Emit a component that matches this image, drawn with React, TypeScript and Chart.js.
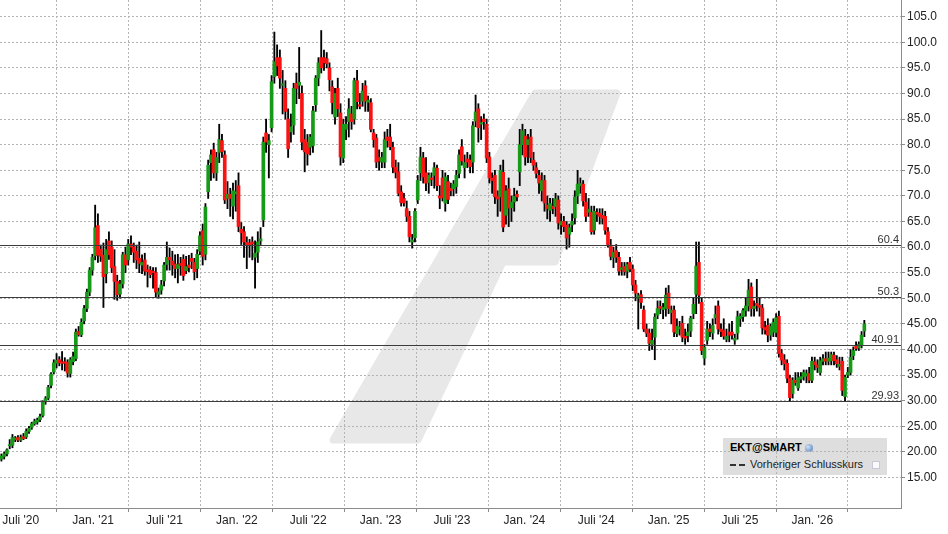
import React, { useEffect, useRef } from "react";
import { Chart, registerables } from "chart.js";

Chart.register(...registerables);

const DAY = 86400000;
const WEEK = 7 * DAY;
const FIRST_WEEK = Date.UTC(2020, 4, 13);

const opens = [
  18.6,19.1,19.6,21.2,21.3,22.4,22.8,22.3,23.0,22.9,
  24.0,24.8,25.5,25.8,26.3,27.1,29.8,30.5,33.0,35.6,
  37.3,38.0,37.6,37.6,37.5,35.3,37.6,38.2,43.5,42.9,
  45.6,48.0,51.2,55.5,58.3,64.2,59.6,58.4,54.8,61.2,
  60.0,56.2,53.3,50.8,52.8,58.5,57.5,60.6,60.0,59.2,
  57.8,56.5,57.5,55.6,55.5,55.3,55.0,50.8,51.6,53.4,
  56.6,58.0,57.3,56.7,55.8,56.8,57.6,55.4,56.5,57.8,
  57.0,55.8,59.2,63.2,58.6,70.8,76.5,79.0,74.5,78.5,
  80.8,78.0,69.5,70.3,68.0,70.4,72.0,63.5,63.0,60.9,
  60.8,61.0,58.0,59.0,61.2,65.3,82.3,80.0,83.3,93.3,
  97.0,97.0,91.6,91.0,85.0,82.5,83.8,92.0,91.6,90.0,
  81.0,80.5,79.5,79.8,87.8,93.0,97.0,97.0,96.8,95.0,
  91.3,85.4,91.0,86.2,77.4,83.0,84.5,86.0,85.0,92.5,
  87.8,88.5,91.5,88.3,88.2,82.3,81.3,77.5,76.6,76.6,
  81.5,81.5,79.5,75.6,74.7,70.8,69.5,67.5,66.0,61.0,
  61.8,69.2,74.5,77.4,74.5,72.6,73.5,74.0,75.4,70.0,
  73.5,68.6,72.8,71.5,71.4,71.8,74.4,79.6,75.5,77.2,
  77.0,76.6,84.6,87.0,84.0,85.0,84.0,77.6,73.5,74.0,
  70.0,69.8,74.6,66.2,71.4,67.7,68.8,70.3,74.7,80.0,
  81.7,80.0,81.5,77.0,75.5,74.0,71.0,73.0,68.2,67.2,
  68.0,67.9,69.2,64.3,65.0,64.3,62.5,64.3,65.7,70.0,
  72.0,72.3,68.8,66.8,66.8,63.3,66.8,66.6,66.2,66.0,
  63.0,60.4,58.0,59.3,58.0,55.6,56.2,55.3,57.0,55.7,
  52.6,50.0,50.7,47.7,44.0,43.2,41.0,42.4,46.7,48.4,
  47.8,48.0,51.0,47.2,47.7,43.1,44.0,45.1,42.6,42.7,
  43.6,47.0,50.8,57.0,49.2,38.3,41.8,44.0,43.2,46.2,
  48.5,44.0,43.7,42.0,43.4,43.4,41.8,43.2,46.0,46.4,
  47.6,48.5,52.2,48.0,49.0,48.6,48.1,44.3,44.7,42.8,
  43.4,43.3,46.5,39.2,38.0,37.3,34.4,31.4,34.0,32.5,
  34.2,34.7,34.8,35.3,34.0,37.6,37.0,35.5,37.7,38.2,
  37.7,37.8,38.9,38.0,36.7,37.7,30.8,35.0,35.5,38.8,
  40.7,40.3,40.8,43.6
];

const highs = [
  19.6,20.0,20.6,22.4,23.4,23.0,23.2,23.3,23.6,24.5,
  25.0,25.8,26.4,26.6,27.4,30.0,30.8,33.0,35.5,38.0,
  39.2,38.6,39.6,38.4,38.0,38.4,39.5,44.0,44.5,46.0,
  48.6,51.8,56.0,58.6,68.2,66.5,60.4,60.8,61.5,63.0,
  61.2,59.5,54.5,53.5,59.0,60.0,61.5,62.2,60.8,60.4,
  61.0,58.5,58.8,56.5,56.2,56.0,56.0,52.0,53.5,57.0,
  61.0,59.8,59.2,58.5,58.6,58.0,58.5,58.2,58.4,58.8,
  57.8,59.5,63.0,64.5,68.5,77.0,79.0,80.3,78.5,84.0,
  82.0,78.8,72.8,71.5,72.5,73.0,74.5,64.8,64.0,62.0,
  61.5,62.0,61.2,63.0,63.8,81.5,85.0,82.0,93.5,102.0,
  99.5,98.5,94.5,92.5,87.0,86.0,92.0,94.0,99.0,91.5,
  83.0,82.0,82.0,87.5,93.5,97.0,102.3,98.5,98.0,96.0,
  92.5,91.0,93.0,88.0,85.0,85.5,89.0,87.5,93.0,94.5,
  90.0,92.0,92.5,89.5,89.0,83.0,82.0,79.0,78.5,82.5,
  83.0,84.0,80.5,77.0,76.5,72.0,70.5,69.0,67.0,62.5,
  67.5,74.0,79.5,78.5,77.5,74.5,74.5,76.5,76.0,72.0,
  75.0,74.5,74.0,72.5,73.0,75.0,79.0,81.0,78.0,78.5,
  78.0,84.5,89.7,88.0,85.5,86.0,85.0,78.5,74.5,75.0,
  71.0,76.0,77.0,72.0,73.5,70.0,71.5,71.0,83.0,84.0,
  83.0,82.0,83.0,78.5,76.5,75.0,74.5,74.0,70.0,69.5,
  69.5,70.5,70.0,66.5,66.0,65.0,64.5,66.5,71.0,75.0,
  73.5,73.0,70.5,69.5,68.0,68.0,67.5,67.5,67.5,67.0,
  63.8,61.5,60.0,60.5,59.0,57.0,57.0,57.0,58.0,56.5,
  53.5,51.0,51.5,48.5,45.0,44.0,44.0,47.0,49.5,49.5,
  49.0,52.0,52.5,48.5,48.5,46.0,45.5,46.5,44.0,45.0,
  46.5,50.0,61.0,61.0,50.0,41.0,45.5,45.0,46.0,48.5,
  49.5,45.0,46.0,44.0,45.0,45.5,43.0,47.5,47.0,48.0,
  50.0,53.7,53.0,49.5,53.7,50.0,48.8,45.5,46.0,45.0,
  46.0,47.0,47.5,40.0,39.0,38.0,35.0,34.5,35.5,35.5,
  35.5,36.0,36.0,36.5,38.5,38.5,38.0,38.5,39.0,39.5,
  39.5,39.5,39.5,38.8,38.5,38.5,35.0,36.5,40.0,40.5,
  41.5,41.5,43.5,45.7
];

const lows = [
  18.2,18.6,19.2,20.6,20.8,22.0,22.0,22.0,22.4,22.6,
  23.6,24.4,25.2,25.4,25.9,26.8,29.3,30.2,32.5,35.2,
  36.4,36.8,36.0,35.8,34.6,34.6,37.0,37.8,42.6,42.5,
  45.0,47.4,50.5,54.5,57.5,57.0,57.2,48.2,53.0,57.6,
  55.0,49.8,49.6,50.0,52.0,55.0,56.5,58.5,57.0,55.8,
  55.0,54.8,54.5,52.2,54.0,52.0,50.3,50.0,50.8,52.4,
  55.5,55.5,54.5,54.0,53.0,54.5,53.5,54.8,55.2,55.8,
  53.6,54.0,58.5,56.5,57.5,69.5,73.0,73.5,73.0,76.5,
  77.5,68.5,67.5,66.0,65.5,67.0,63.0,60.5,58.0,55.8,
  58.0,57.5,52.0,57.0,60.5,64.0,78.5,73.5,82.5,92.0,
  93.5,91.0,86.0,85.0,77.5,80.5,82.0,88.0,89.0,79.0,
  74.7,76.0,78.0,78.5,86.5,91.5,94.0,94.5,95.0,90.5,
  86.0,84.0,85.5,76.0,76.5,81.0,81.5,83.0,84.0,87.0,
  87.0,87.5,86.5,86.5,82.5,79.5,75.5,75.0,75.5,75.5,
  79.5,79.0,74.5,73.5,70.0,68.0,68.0,65.0,61.0,59.8,
  61.0,68.5,73.0,72.5,71.0,70.5,72.0,71.5,71.0,67.5,
  69.0,67.0,68.5,70.0,70.0,70.5,73.5,76.0,73.5,75.5,
  74.5,74.5,83.5,80.5,81.0,83.0,76.5,72.5,70.5,68.5,
  66.0,67.0,63.0,64.5,64.0,65.0,67.0,69.0,72.0,78.0,
  76.0,76.5,76.5,75.0,73.5,70.5,69.0,67.0,65.5,65.0,
  66.5,66.0,63.5,62.5,63.0,59.6,60.0,63.0,64.5,68.5,
  70.5,68.0,65.0,66.0,62.5,62.5,65.0,64.5,64.5,62.5,
  60.0,57.5,56.0,57.0,54.5,54.5,54.5,54.0,55.2,51.5,
  49.5,44.0,48.0,43.5,42.5,39.8,40.0,38.0,46.0,47.0,
  46.0,46.5,47.0,45.0,42.5,42.5,42.8,41.5,41.0,41.5,
  42.5,46.0,47.0,49.0,39.0,37.0,41.0,42.5,42.0,45.0,
  43.0,42.5,42.0,41.5,41.5,42.0,41.0,42.0,44.5,45.5,
  46.5,47.5,46.5,46.5,47.5,46.5,43.0,43.0,41.5,41.8,
  42.5,42.5,38.5,37.0,36.0,33.5,30.0,30.5,33.0,32.0,
  33.5,34.0,33.5,33.5,33.5,36.0,35.5,35.0,37.0,37.0,
  37.0,37.0,37.0,36.5,36.0,31.0,30.0,34.5,35.0,38.0,
  39.8,39.8,40.3,42.5
];

const closes = [
  19.2,19.6,20.4,21.3,22.8,22.7,22.3,22.8,22.6,24.0,
  24.6,25.5,26.0,26.2,26.9,29.7,30.4,32.6,35.2,37.4,
  37.9,37.4,37.3,37.3,35.4,38.0,38.6,43.4,42.9,45.3,
  48.0,51.2,55.5,58.0,63.8,58.4,58.2,54.2,59.5,58.5,
  56.0,53.3,50.7,52.8,58.5,56.5,60.6,60.0,59.0,57.5,
  56.8,57.0,55.3,55.2,54.6,55.0,51.2,51.3,52.6,56.5,
  58.0,57.5,56.5,55.8,56.6,56.4,54.4,56.2,56.0,57.2,
  55.2,58.6,62.2,58.2,67.8,76.0,78.0,74.5,77.5,81.0,
  78.6,69.2,70.3,69.5,71.0,70.8,64.0,62.8,61.0,60.3,
  60.3,60.6,58.8,61.0,61.6,80.5,80.5,80.8,92.3,96.2,
  95.4,93.0,91.9,86.5,79.2,83.5,91.0,91.0,92.2,80.5,
  78.6,78.2,81.5,86.6,93.0,96.0,95.0,96.0,95.8,92.7,
  88.2,90.0,87.0,77.6,84.0,84.0,87.0,84.5,92.5,88.4,
  87.5,90.5,88.5,88.7,83.0,81.0,76.6,76.8,77.5,81.0,
  80.8,79.6,75.6,74.6,70.5,68.7,68.6,66.0,62.0,61.4,
  67.0,73.0,77.6,73.7,72.5,74.0,73.2,75.5,72.0,69.6,
  69.6,73.7,69.3,71.0,72.3,74.0,78.0,76.8,76.5,76.6,
  75.7,83.7,86.4,83.3,84.3,84.5,77.4,73.5,73.0,69.8,
  69.4,75.0,63.9,71.0,67.6,68.8,69.9,69.8,80.0,82.7,
  77.6,81.0,77.5,76.0,74.4,72.5,73.0,68.6,67.5,68.5,
  67.5,69.4,64.7,65.0,64.0,61.8,63.8,65.0,69.8,72.3,
  72.4,69.0,66.0,67.4,63.0,67.0,66.4,66.0,65.6,63.3,
  60.5,58.2,59.0,58.0,55.3,56.0,55.2,56.6,55.7,52.6,
  51.0,50.5,49.2,44.0,43.2,41.2,41.8,46.3,48.0,48.0,
  48.2,50.6,48.0,47.7,43.4,44.5,44.4,42.4,42.2,43.4,
  46.1,48.8,56.3,50.6,39.8,40.4,44.0,43.5,44.7,46.8,
  44.0,43.5,42.6,42.6,42.8,42.8,42.2,46.4,46.5,47.6,
  48.5,51.6,48.0,48.4,48.6,48.2,44.2,43.8,42.8,44.5,
  45.3,46.2,39.2,37.9,37.2,34.4,30.6,34.0,33.5,34.5,
  34.7,35.5,35.3,34.0,37.7,37.0,36.5,37.8,38.2,37.7,
  38.3,39.0,37.8,37.2,37.1,32.0,34.6,35.5,38.5,39.8,
  40.2,41.0,42.8,45.0
];

const xTickDates = [
  Date.UTC(2020, 6, 1), Date.UTC(2021, 0, 1), Date.UTC(2021, 6, 1),
  Date.UTC(2022, 0, 1), Date.UTC(2022, 6, 1), Date.UTC(2023, 0, 1),
  Date.UTC(2023, 6, 1), Date.UTC(2024, 0, 1), Date.UTC(2024, 6, 1),
  Date.UTC(2025, 0, 1), Date.UTC(2025, 6, 1), Date.UTC(2026, 0, 1),
  Date.UTC(2026, 6, 1)
];
const xTickLabels = [
  "Juli '20", "Jan. '21", "Juli '21", "Jan. '22", "Juli '22", "Jan. '23",
  "Juli '23", "Jan. '24", "Juli '24", "Jan. '25", "Juli '25", "Jan. '26", ""
];
const yTickValues = [15, 20, 25, 30, 35, 40, 45, 50, 55, 60, 65, 70, 75, 80, 85, 90, 95, 100, 105];

const refLevels = [60.4, 50.3, 40.91, 29.93];
const refLabels = ["60.4", "50.3", "40.91", "29.93"];

const X_MIN = Date.UTC(2020, 6, 1) - 52.6 * DAY;
const X_MAX = Date.UTC(2020, 6, 1) + 2235.1 * DAY;
const Y_MIN = 9.04;
const Y_MAX = 108.26;

const GREEN = "#179a17";
const RED = "#fb1212";
const FONT = "'Liberation Sans', Arial, sans-serif";

const refLinePlugin = {
  id: "refLines",
  afterDatasetsDraw(chart: any) {
    const { ctx, chartArea, scales } = chart;
    ctx.save();
    ctx.strokeStyle = "#3c3c3c";
    ctx.lineWidth = 1;
    ctx.fillStyle = "#333";
    ctx.font = "11px " + FONT;
    ctx.textAlign = "right";
    ctx.textBaseline = "alphabetic";
    refLevels.forEach((lv, i) => {
      const y = Math.round(scales.y.getPixelForValue(lv)) + 0.5;
      ctx.beginPath();
      ctx.moveTo(chartArea.left, y);
      ctx.lineTo(chartArea.right, y);
      ctx.stroke();
      ctx.fillText(refLabels[i], chartArea.right - 2, y - 3);
    });
    ctx.restore();
  },
};

export default function App() {
  const canvasRef = useRef<HTMLCanvasElement | null>(null);

  useEffect(() => {
    const canvas = canvasRef.current;
    if (!canvas) return;
    const times = opens.map((_, i) => FIRST_WEEK + i * WEEK);
    const colors = opens.map((o, i) => (closes[i] >= o ? GREEN : RED));

    const chart = new Chart(canvas, {
      type: "bar",
      data: {
        datasets: [
          {
            type: "bar",
            label: "wick",
            data: times.map((t, i) => ({ x: t, y: [lows[i], highs[i]] })) as any,
            backgroundColor: "#000",
            barThickness: 1.2,
            grouped: false,
            borderWidth: 0,
            order: 3,
          } as any,
          {
            type: "bar",
            label: "body",
            data: times.map((t, i) => ({ x: t, y: [opens[i], closes[i]] })) as any,
            backgroundColor: colors,
            barThickness: 3,
            minBarLength: 1,
            grouped: false,
            borderWidth: 0,
            order: 2,
          } as any,
        ],
      },
      options: {
        animation: false,
        responsive: false,
        maintainAspectRatio: false,
        devicePixelRatio: 1,
        layout: { padding: 0 },
        plugins: { legend: { display: false }, tooltip: { enabled: false } },
        scales: {
          x: {
            type: "linear",
            min: X_MIN,
            max: X_MAX,
            offset: false,
            afterBuildTicks: (scale: any) => {
              scale.ticks = xTickDates.map((v) => ({ value: v }));
            },
            afterFit: (scale: any) => {
              scale.height = 26;
              scale.paddingLeft = 0;
              scale.paddingRight = 0;
            },
            ticks: {
              autoSkip: false,
              maxRotation: 0,
              padding: 1,
              color: "#222",
              font: { family: FONT, size: 12 },
              callback: (_v: any, idx: number) => xTickLabels[idx] ?? "",
            },
            grid: {
              color: "#b4b4b4",
              lineWidth: 1,
              drawTicks: true,
              tickLength: 4,
              tickColor: "#8c8c8c",
              tickBorderDash: [],
            },
            border: { display: true, color: "#8c8c8c", width: 1, dash: [2, 2] },
          } as any,
          y: {
            type: "linear",
            position: "right",
            min: Y_MIN,
            max: Y_MAX,
            afterBuildTicks: (scale: any) => {
              scale.ticks = yTickValues.map((v) => ({ value: v }));
            },
            afterFit: (scale: any) => {
              scale.width = 47;
              scale.paddingTop = 0;
              scale.paddingBottom = 0;
            },
            ticks: {
              padding: 2,
              color: "#222",
              font: { family: FONT, size: 12 },
              callback: (v: any) => (v >= 50 ? Number(v).toFixed(1) : Number(v).toFixed(2)),
            },
            grid: {
              color: "#b4b4b4",
              lineWidth: 1,
              drawTicks: true,
              tickLength: 4,
              tickColor: "#8c8c8c",
              tickBorderDash: [],
            },
            border: { display: true, color: "#8c8c8c", width: 1, dash: [2, 2] },
          } as any,
        },
      },
      plugins: [refLinePlugin],
    });
    return () => chart.destroy();
  }, []);

  return (
    <div style={{ position: "absolute", left: 0, top: 0, width: 948, height: 534, background: "#fff", overflow: "hidden" }}>
      <svg width={948} height={534} style={{ position: "absolute", left: 0, top: 0 }}>
        <path
          d="M535 93 L617 93 L555 262 L503 262 L418 440 L333 440 Z"
          fill="#e8e8e8"
          stroke="#e8e8e8"
          strokeWidth={7}
          strokeLinejoin="round"
        />
      </svg>
      <div
        style={{
          position: "absolute",
          left: 723,
          top: 438,
          width: 164,
          height: 37,
          background: "#dedede",
          fontFamily: FONT,
        }}
      >
        <div style={{ position: "absolute", left: 7, top: 3, fontSize: 11, fontWeight: "bold", color: "#000", whiteSpace: "nowrap" }}>
          EKT@SMART
        </div>
        <div
          style={{
            position: "absolute",
            left: 82,
            top: 6,
            width: 8,
            height: 8,
            borderRadius: "50%",
            background: "radial-gradient(circle at 35% 35%, #cfe0f5, #4a78b8)",
          }}
        />
        <div style={{ position: "absolute", left: 7, top: 26, width: 6, height: 2, background: "#333" }} />
        <div style={{ position: "absolute", left: 16, top: 26, width: 6, height: 2, background: "#333" }} />
        <div style={{ position: "absolute", left: 27, top: 20, fontSize: 11, color: "#222", whiteSpace: "nowrap" }}>
          Vorheriger Schlusskurs
        </div>
        <div
          style={{
            position: "absolute",
            left: 149,
            top: 23,
            width: 6,
            height: 6,
            background: "#fafafa",
            border: "1px solid #c8c8d8",
          }}
        />
      </div>
      <canvas ref={canvasRef} width={948} height={534} style={{ position: "absolute", left: 0, top: 0 }} />
    </div>
  );
}
